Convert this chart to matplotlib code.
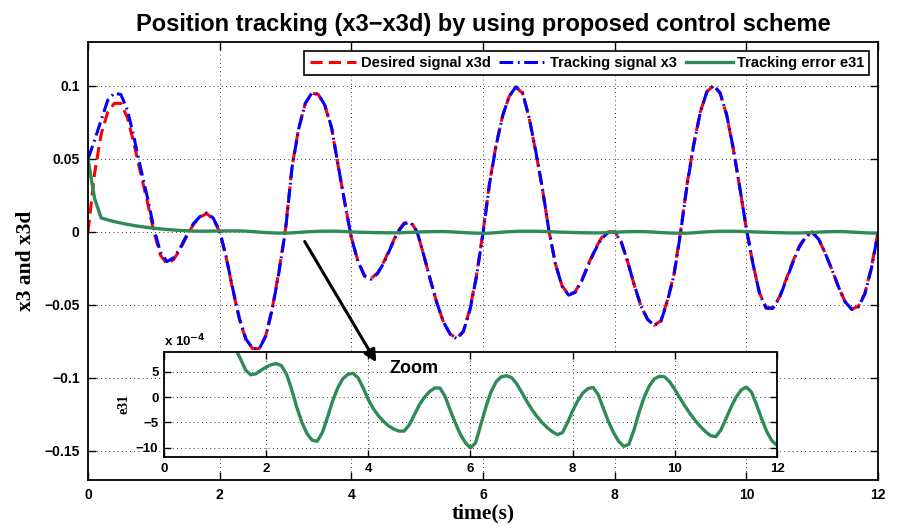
import numpy as np
import matplotlib.pyplot as plt

# sample times (s)
t = np.round(np.arange(0, 12.01, 0.1), 1)

# desired signal x3d
x3d = [0.000, 0.040, 0.067, 0.082, 0.088, 0.088, 0.078, 0.060, 0.040, 0.021,
       0.000, -0.016, -0.022, -0.019, -0.012, -0.003, 0.005, 0.010, 0.0125, 0.009,
       0.000, -0.018, -0.040, -0.060, -0.074, -0.080, -0.080, -0.071, -0.052, -0.027,
       0.002, 0.045, 0.071, 0.088, 0.095, 0.094, 0.086, 0.071, 0.045, 0.020,
       -0.004, -0.020, -0.030, -0.032, -0.028, -0.020, -0.010, 0.000, 0.006, 0.007,
       0.000, -0.016, -0.033, -0.049, -0.062, -0.070, -0.073, -0.068, -0.053, -0.030,
       0.000, 0.034, 0.060, 0.080, 0.093, 0.099, 0.095, 0.078, 0.055, 0.030,
       0.001, -0.022, -0.037, -0.043, -0.041, -0.033, -0.022, -0.012, -0.004, 0.000,
       0.000, -0.007, -0.021, -0.037, -0.051, -0.060, -0.064, -0.061, -0.047, -0.029,
       0.000, 0.033, 0.060, 0.082, 0.096, 0.100, 0.095, 0.080, 0.057, 0.030,
       0.002, -0.022, -0.042, -0.052, -0.052, -0.045, -0.033, -0.021, -0.010, -0.003,
       0.000, -0.005, -0.015, -0.026, -0.038, -0.048, -0.053, -0.051, -0.042, -0.024,
       0.000]

# tracking error e31, in units of 1e-4
e31_e4 = [500, 228, 95, 82, 70, 60, 51, 43, 36, 30,
          25, 20, 16, 12.5, 9.5, 7.5, 5.3, 4.4, 4.6, 5.3,
          5.9, 6.4, 6.6, 6.2, 4.5, 1.5, -2.0, -5.0, -7.2, -8.5,
          -8.7, -7.0, -4.0, -0.8, 1.8, 3.6, 4.5, 4.7, 3.8, 1.8,
          -0.5, -2.3, -3.7, -4.8, -5.7, -6.3, -6.7, -6.7, -5.5, -3.5,
          -1.5, 0.0, 1.1, 1.8, 1.8, 0.2, -2.5, -5.0, -7.3, -9.0,
          -10.0, -9.0, -5.5, -2.0, 1.0, 3.0, 4.0, 4.2, 3.9, 2.7,
          1.0, -0.8, -2.4, -3.8, -5.0, -6.0, -6.8, -7.4, -7.0, -5.0,
          -2.7, -0.7, 0.8, 1.7, 1.9, 0.5, -2.2, -4.8, -7.0, -8.7,
          -9.7, -9.3, -6.5, -3.0, 0.0, 2.2, 3.6, 4.1, 4.0, 3.0,
          1.5, -0.2, -1.8, -3.3, -4.6, -5.8, -6.8, -7.6, -7.8, -6.5,
          -4.3, -2.0, 0.0, 1.4, 2.0, 1.0, -1.5, -4.3, -6.8, -8.6,
          -9.5]

x3d = np.array(x3d)
e31 = np.array(e31_e4) * 1e-4
x3 = x3d + e31

red = '#FF0000'
blue = '#0000FF'
green = '#2E8B57'
sans = ['Liberation Sans', 'DejaVu Sans']
serif = ['Liberation Serif', 'DejaVu Serif']

plt.rcParams['font.family'] = sans
plt.rcParams['font.weight'] = 'bold'

fig = plt.figure(figsize=(8.99, 5.32), dpi=100)
ax = fig.add_axes([0.0979, 0.0977, 0.8788, 0.8233])

ax.plot(t, x3d, color=red, lw=2.2, dashes=(4, 2), label='Desired signal x3d')
ax.plot(t, x3, color=blue, lw=2.2, dashes=(4.5, 1.5, 0.6, 1.5), label='Tracking signal x3')
ax.plot(t, e31, color=green, lw=2.4, label='Tracking error e31')

ax.set_xlim(0, 12)
ax.set_ylim(-0.17, 0.13)
ax.set_xticks(range(0, 13, 2))
ax.set_yticks([-0.15, -0.1, -0.05, 0, 0.05, 0.1])
ax.set_yticklabels(['\u22120.15', '\u22120.1', '\u22120.05', '0', '0.05', '0.1'])
ax.tick_params(direction='in', length=6, width=1, top=True, right=True, labelsize=10, pad=6)
ax.grid(True, color='k', linestyle=(0, (1, 4)), lw=0.6)
for s in ax.spines.values():
    s.set_linewidth(1.3)

ax.set_title('Position tracking (x3\u2212x3d) by using proposed control scheme',
             fontsize=17, fontweight='bold', pad=8)
ax.set_xlabel('time(s)', family=serif, fontsize=15.5, fontweight='bold', labelpad=1)
ax.set_ylabel('x3 and x3d', family=serif, fontsize=15.5, fontweight='bold', labelpad=6)

leg = ax.legend(loc='upper right', ncol=3, fontsize=10.5, frameon=True, fancybox=False,
                edgecolor='k', framealpha=1, handlelength=3.2, handletextpad=0.3,
                columnspacing=0.6, borderpad=0.35, borderaxespad=0.6)
leg.get_frame().set_linewidth(1.2)

# zoomed view of the error
axi = fig.add_axes([0.1824, 0.141, 0.6819, 0.1974])
axi.plot(t, e31_e4, color=green, lw=2.4)
axi.set_xlim(0, 12)
axi.set_ylim(-11.8, 8.9)
axi.set_xticks(range(0, 13, 2))
axi.set_yticks([-10, -5, 0, 5])
axi.set_yticklabels(['\u221210', '\u22125', '0', '5'])
axi.tick_params(direction='in', length=5, width=1, top=True, right=True, labelsize=9.5, pad=4)
axi.grid(True, color='k', linestyle=(0, (1, 4)), lw=0.6)
for s in axi.spines.values():
    s.set_linewidth(1.3)
axi.set_ylabel('e31', family=serif, fontsize=10, fontweight='bold', labelpad=4)
axi.text(0, 1.03, r'x 10$^{\mathbf{-4}}$', transform=axi.transAxes, fontsize=9.5,
         fontweight='bold', va='bottom', ha='left')
axi.text(4.42, 5.6, 'Zoom', fontsize=13, fontweight='bold', va='center', ha='left')

# arrow from the main curve into the zoom box
axi.annotate('', xy=(4.4, -0.091), xycoords=ax.transData,
             xytext=(3.27, -0.005), textcoords=ax.transData, annotation_clip=False,
             arrowprops=dict(arrowstyle='-|>', color='k', lw=2.2, mutation_scale=18))

fig.savefig('out.png', dpi=100)
